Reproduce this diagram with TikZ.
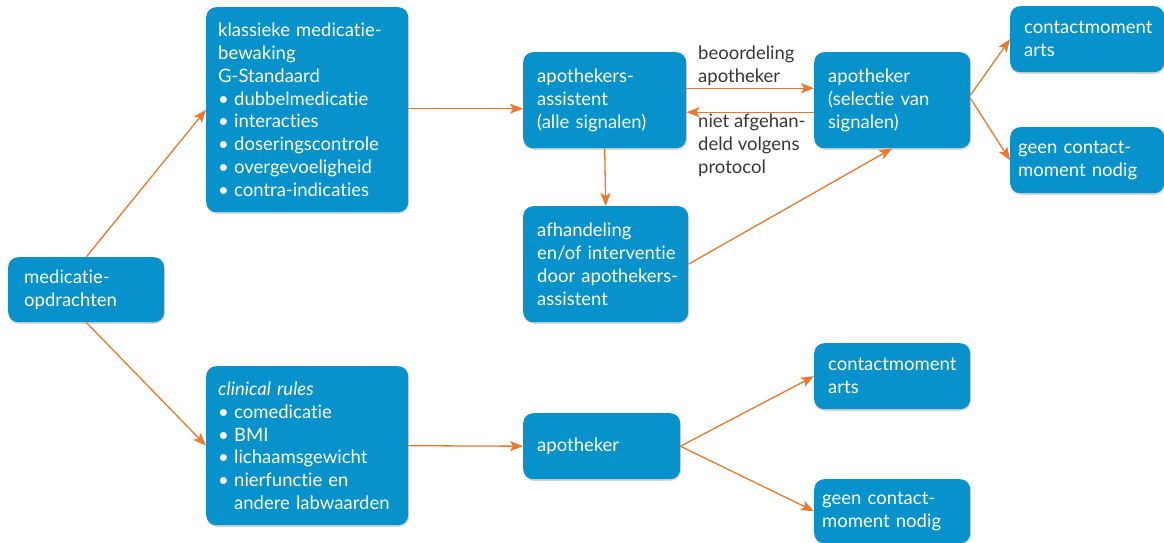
\documentclass[tikz,border=0pt]{standalone}
\usepackage{fontspec}
\setmainfont{Lato}[Ligatures=NoCommon]
\usetikzlibrary{arrows.meta,positioning,shadows}
\definecolor{boxblue}{RGB}{8,146,203}
\definecolor{arroworange}{RGB}{240,118,40}
\definecolor{labelgray}{RGB}{55,55,55}
\hyphenpenalty=10000
\exhyphenpenalty=10000
\newcommand{\blt}{\makebox[16pt][l]{\textbullet}}
\newcommand{\ind}{\hspace*{16pt}}
\tikzstyle{block} = [rectangle, fill=boxblue, text=white, anchor=north west,
    align=left, rounded corners=10pt, inner xsep=14pt, inner ysep=0pt,
    font=\fontsize{18.5}{22.8}\selectfont,
    drop shadow={shadow xshift=0.6pt, shadow yshift=-1.6pt, opacity=0.35}]
\tikzstyle{line} = [draw=arroworange, line width=1.3pt,
    -{Stealth[length=13pt, width=10pt, inset=3pt]}]
\tikzstyle{lbl} = [text=labelgray, anchor=north west, align=left, inner sep=0pt,
    font=\fontsize{18.5}{22.8}\selectfont]

\begin{document}
\begin{tikzpicture}[x=1pt, y=-1pt]
    \useasboundingbox (0,0) rectangle (1164,543);
    % Place nodes
    \node [block, inner xsep=16pt, text width=124pt, minimum height=65pt] (opdr) at (8,257)
        {medicatie-\\opdrachten};
    \node [block, inner xsep=12pt, text width=178pt, minimum height=205pt] (klassiek) at (206,7)
        {klassieke~medicatie-\\bewaking\\G-Standaard\\\blt dubbelmedicatie\\\blt interacties\\
         \blt doseringscontrole\\\blt overgevoeligheid\\\blt contra-indicaties};
    \node [block, inner xsep=12pt, text width=178pt, minimum height=159pt] (clinical) at (206,366)
        {\textit{clinical~rules}\\\blt comedicatie\\\blt BMI\\\blt lichaamsgewicht\\
         \blt nierfunctie~en\\\ind andere~labwaarden};
    \node [block, text width=135pt, minimum height=96pt] (assistent) at (523,52)
        {apothekers-\\assistent\\(alle~signalen)};
    \node [block, text width=137pt, minimum height=116pt] (afhandeling) at (523,206)
        {afhandeling\\en/of~interventie\\door~apothekers-\\assistent};
    \node [block, text width=129pt, minimum height=66pt] (apoth2) at (523,413)
        {apotheker};
    \node [block, text width=128pt, minimum height=96pt] (apoth1) at (814,52)
        {apotheker\\(selectie~van\\signalen)};
    \node [block, text width=126pt, minimum height=66pt] (contact1) at (1010,6)
        {contactmoment\\arts};
    \node [block, inner xsep=8pt, text width=138pt, minimum height=66pt] (geen1) at (1010,127)
        {geen~contact-\\moment~nodig};
    \node [block, text width=128pt, minimum height=66pt] (contact2) at (814,343)
        {contactmoment\\arts};
    \node [block, inner xsep=8pt, text width=140pt, minimum height=64pt] (geen2) at (814,479)
        {geen~contact-\\moment~nodig};
    % Edge labels
    \node [lbl] (beoordeling) at (698,46) {beoordeling\\apotheker};
    \node [lbl] (nietafgehandeld) at (698,114) {niet afgehan-\\deld volgens\\protocol};
    % Draw edges
    \path [line] (opdr.north) -- (klassiek.west);
    \path [line] (opdr.south) -- (clinical.west);
    \path [line] ([yshift=1pt] klassiek.east) -- ([yshift=1pt] klassiek.east -| assistent.west);
    \path [line] (assistent.south) -- (afhandeling.north);
    \path [line] ([yshift=12pt] assistent.east) -- ([yshift=12pt] apoth1.west);
    \path [line] ([yshift=-12pt] apoth1.west) -- ([yshift=-12pt] assistent.east);
    \path [line] (afhandeling.east) -- (apoth1.south);
    \path [line] ([yshift=5pt] apoth1.east) -- (contact1.west);
    \path [line] ([yshift=2pt] apoth1.east) -- (geen1.west);
    \path [line] (clinical.east) -- (apoth2.west);
    \path [line] (apoth2.east) -- (contact2.west);
    \path [line] (apoth2.east) -- (geen2.west);
\end{tikzpicture}
\end{document}
